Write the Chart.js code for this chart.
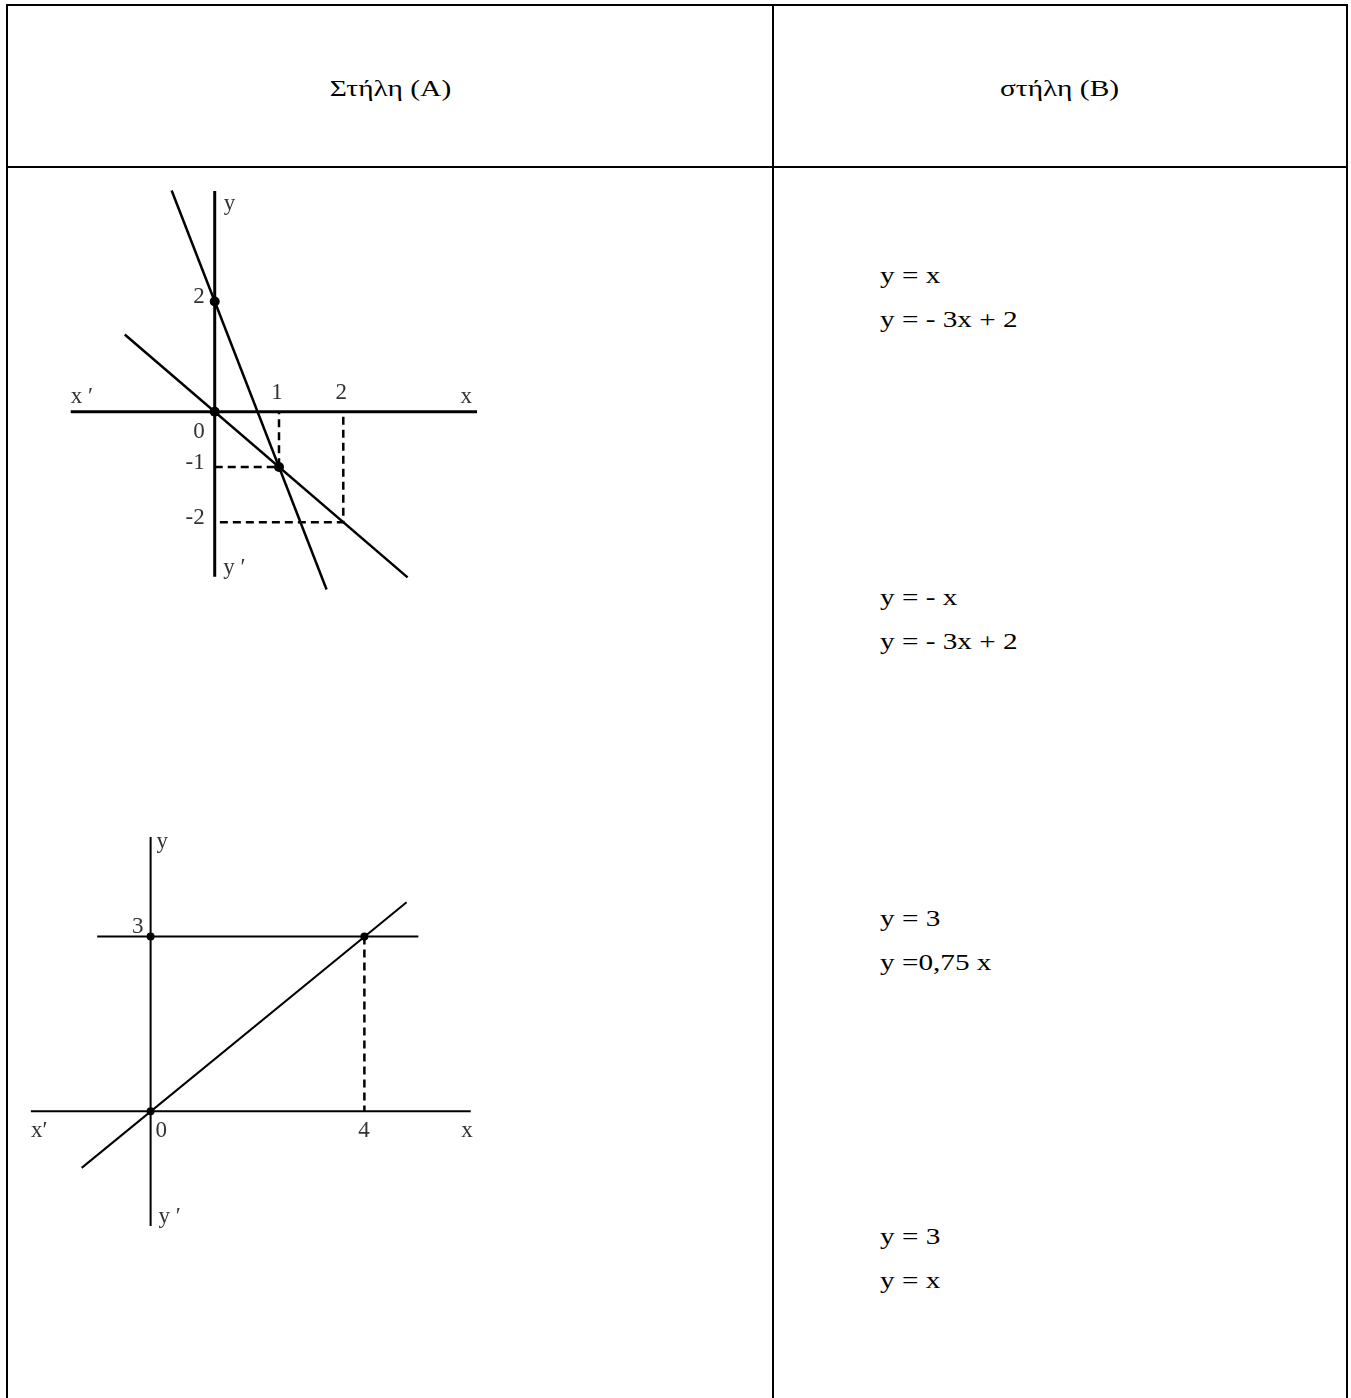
<!DOCTYPE html>
<html>
<head>
<meta charset="utf-8">
<script src="https://cdn.jsdelivr.net/npm/chart.js@4.4.1/dist/chart.umd.min.js"></script>
<style>
  body { margin: 0; background: #fff; }
  #page { position: relative; width: 1351px; height: 1398px; overflow: hidden; font-family: "Liberation Serif", "DejaVu Serif", serif; color: #000; }
  .frame { position: absolute; left: 6px; top: 4px; width: 1342px; height: 1460px; border: 2px solid #000; box-sizing: border-box; }
  .hline { position: absolute; left: 6px; top: 166px; width: 1342px; height: 2px; background: #000; }
  .vline { position: absolute; left: 772px; top: 4px; width: 2px; height: 1460px; background: #000; }
  .head { position: absolute; top: 67px; font-size: 23px; line-height: 44px; text-align: center; }
  .head span { display: inline-block; transform: scaleX(1.28); transform-origin: center; }
  .eq { position: absolute; left: 880px; font-size: 23px; line-height: 44px; white-space: pre; transform: scaleX(1.27); transform-origin: left top; }
  canvas { position: absolute; }
</style>
</head>
<body>
<div id="page">
  <div class="frame"></div>
  <div class="hline"></div>
  <div class="vline"></div>
  <div class="head" style="left:8px;width:764px"><span>Στήλη (Α)</span></div>
  <div class="head" style="left:774px;width:572px"><span>στήλη (Β)</span></div>
  <div id="colB"></div>
  <canvas id="g1" width="460" height="435" style="left:49px;top:175px"></canvas>
  <canvas id="g2" width="489" height="445" style="left:13px;top:816px"></canvas>
</div>
<script>
// column (B) equations, two per group
const colB = [
  ['y = x', 'y = - 3x + 2'],
  ['y = - x', 'y = - 3x + 2'],
  ['y = 3', 'y =0,75 x'],
  ['y = 3', 'y = x']
];

// graph 1: y = -x and y = -3x + 2
const g1AxisX = [-2.24, 4.08];                       // x'x along y = 0
const g1AxisY = [-2.99, 4.0];                        // y'y along x = 0
const g1LineNeg = [[-1.4, 1.4], [3.0, -3.0]];        // y = -x
const g1LineSteep = [[-0.67, 4.01], [1.74, -3.22]];  // y = -3x + 2
const g1Guide1 = [[0, -1], [1, -1], [1, 0]];
const g1Guide2 = [[0.08, -2], [2, -2], [2, 0]];
const g1Points = [[0, 2], [0, 0], [1, -1]];
const g1TicksX = [1, 2];
const g1TicksY = [2, -1, -2];

// graph 2: y = 3 and y = 0,75x
const g2AxisX = [-2.24, 5.99];
const g2AxisY = [-1.97, 4.71];
const g2LineH = [[-1.0, 3], [5.01, 3]];              // y = 3
const g2LineDiag = [[-1.29, -0.97], [4.79, 3.59]];   // y = 0.75x
const g2Guide = [[4, 3], [4, 0]];
const g2Points = [[0, 3], [0, 0], [4, 3]];
const g2TicksX = [4];
const g2TicksY = [3];

const pts = a => a.map(([x, y]) => ({ x, y }));

// column B text
const tops = [254, 576, 897, 1215];
const colBEl = document.getElementById('colB');
colB.forEach((grp, i) => {
  const d = document.createElement('div');
  d.className = 'eq';
  d.style.top = tops[i] + 'px';
  d.textContent = grp.join('\n');
  colBEl.appendChild(d);
});

// draws text labels at data coordinates (+ pixel nudges)
function labelPlugin(items) {
  return {
    id: 'mathLabels',
    afterDatasetsDraw(chart) {
      const { ctx, scales: { x, y } } = chart;
      ctx.save();
      ctx.font = '23px "Liberation Serif", serif';
      ctx.fillStyle = '#333';
      ctx.textBaseline = 'alphabetic';
      items.forEach(it => {
        ctx.textAlign = it.align || 'center';
        ctx.fillText(it.text, x.getPixelForValue(it.x) + (it.dx || 0), y.getPixelForValue(it.y) + (it.dy || 0));
      });
      ctx.restore();
    }
  };
}

function seg(data, width, dash) {
  return {
    data: pts(data), showLine: true, pointRadius: 0, borderColor: '#000',
    borderWidth: width, borderDash: dash || [], tension: 0
  };
}

function makeChart(id, datasets, xr, yr, labels) {
  return new Chart(document.getElementById(id), {
    type: 'scatter',
    data: { datasets },
    options: {
      responsive: false,
      animation: false,
      events: [],
      layout: { padding: 0 },
      scales: {
        x: { type: 'linear', min: xr[0], max: xr[1], display: false },
        y: { type: 'linear', min: yr[0], max: yr[1], display: false }
      },
      plugins: { legend: { display: false }, tooltip: { enabled: false } }
    },
    plugins: [labelPlugin(labels)]
  });
}

// graph 1
makeChart('g1', [
  { data: pts(g1Points), pointRadius: 5, pointBackgroundColor: '#000', pointBorderWidth: 0, showLine: false },
  seg(g1AxisX.map(v => [v, 0]), 3),
  seg(g1AxisY.map(v => [0, v]), 3),
  seg(g1LineNeg, 2.5),
  seg(g1LineSteep, 2.5),
  seg(g1Guide1, 2.5, [8, 5]),
  seg(g1Guide2, 2.5, [8, 5])
], [-2.5, 4.5], [-3.5, 4.2], [
  ...g1TicksX.map(v => ({ text: String(v), x: v, y: 0, dx: -2, dy: -12.5 })),
  ...g1TicksY.map(v => ({ text: String(v), x: 0, y: v, dx: -10, dy: 1.5, align: 'right' })),
  { text: '0', x: 0, y: 0, dx: -10, dy: 26.5, align: 'right' },
  { text: 'x ′', x: g1AxisX[0], y: 0, dx: 0, dy: -8.5, align: 'left' },
  { text: 'x', x: g1AxisX[1], y: 0, dx: -5, dy: -8.5, align: 'right' },
  { text: 'y', x: 0, y: g1AxisY[1], dx: 9, dy: 18.5, align: 'left' },
  { text: 'y ′', x: 0, y: g1AxisY[0], dx: 8.5, dy: -2.5, align: 'left' }
]);

// graph 2
makeChart('g2', [
  { data: pts(g2Points), pointRadius: 4, pointBackgroundColor: '#000', pointBorderWidth: 0, showLine: false },
  seg(g2AxisX.map(v => [v, 0]), 2),
  seg(g2AxisY.map(v => [0, v]), 2),
  seg(g2LineH, 2),
  seg(g2LineDiag, 2),
  seg(g2Guide, 2.5, [8, 5])
], [-2.5, 6.5], [-2.5, 5.0], [
  ...g2TicksX.map(v => ({ text: String(v), x: v, y: 0, dx: -0.5, dy: 25.5 })),
  ...g2TicksY.map(v => ({ text: String(v), x: 0, y: v, dx: -7, dy: -3.5, align: 'right' })),
  { text: '0', x: 0, y: 0, dx: 5, dy: 25.5, align: 'left' },
  { text: 'x′', x: g2AxisX[0], y: 0, dx: 0, dy: 25.5, align: 'left' },
  { text: 'x', x: g2AxisX[1], y: 0, dx: 2, dy: 25.5, align: 'right' },
  { text: 'y', x: 0, y: g2AxisY[1], dx: 6, dy: 11, align: 'left' },
  { text: 'y ′', x: 0, y: g2AxisY[0], dx: 8, dy: -3, align: 'left' }
]);
</script>
</body>
</html>
